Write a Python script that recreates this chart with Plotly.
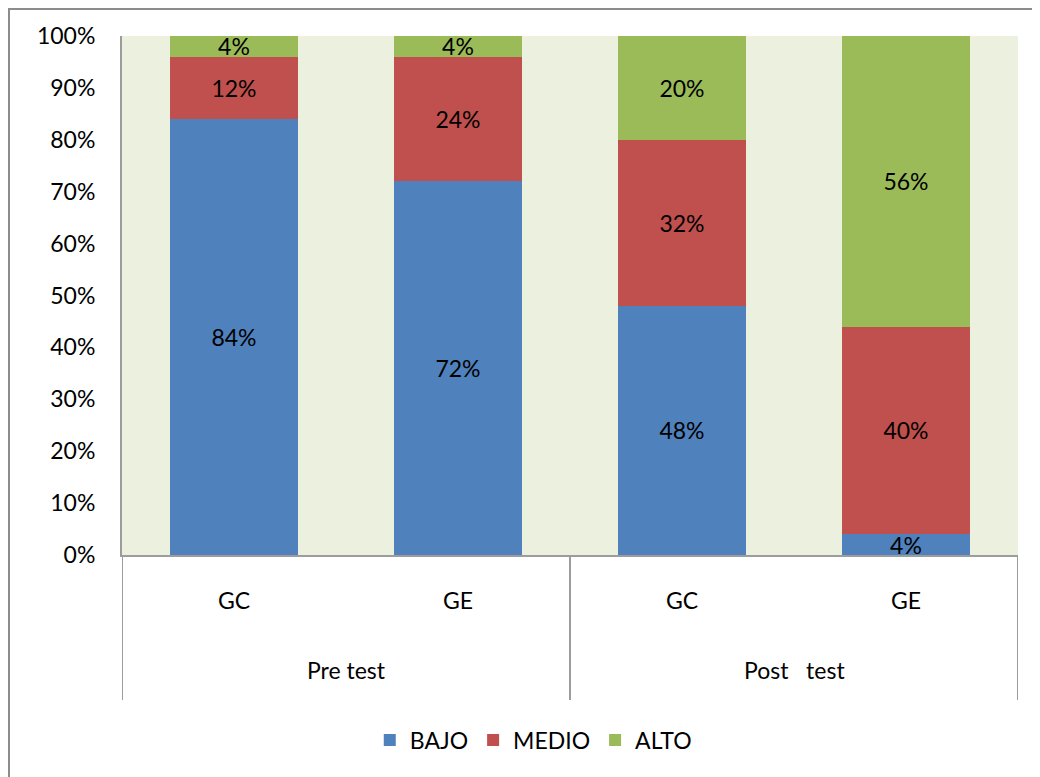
import plotly.graph_objects as go

# datos
grupos = ["GC", "GE", "GC", "GE"]
momentos = ["Pre test", "Post   test"]
bajo = [84, 72, 48, 4]
medio = [12, 24, 32, 40]
alto = [4, 4, 20, 56]

posiciones = list(range(len(grupos)))
fuente = "Lato"
gris = "#9C9C9C"
alto_px = 519  # alto del area de trazado

series = [
    ("BAJO", bajo, "#4F81BD"),
    ("MEDIO", medio, "#C0504D"),
    ("ALTO", alto, "#9BBB59"),
]

fig = go.Figure()
for nombre, valores, color in series:
    fig.add_trace(go.Bar(
        x=posiciones,
        y=[v / 100 for v in valores],
        name=nombre,
        marker=dict(color=color, line=dict(width=0)),
        text=["%d%%" % v for v in valores],
        textposition="inside",
        insidetextanchor="middle",
        textangle=0,
        constraintext="none",
        textfont=dict(family=fuente, size=23, color="#000000"),
        width=0.57,
    ))

fig.update_layout(
    barmode="stack",
    width=1040,
    height=777,
    paper_bgcolor="white",
    plot_bgcolor="#EBF1DE",
    margin=dict(l=114, r=30, t=28, b=230),
    font=dict(family=fuente, size=23, color="#000000"),
    legend=dict(
        orientation="h",
        x=0.459, xanchor="center",
        y=-185 / alto_px, yanchor="middle",
        font=dict(size=23),
        itemwidth=30,
        traceorder="normal",
    ),
)

fig.update_xaxes(
    range=[-0.5, len(grupos) - 0.5],
    tickvals=posiciones,
    ticktext=grupos,
    ticks="",
    ticklabelstandoff=24,
    showline=True,
    linecolor=gris,
    linewidth=2,
    showgrid=False,
    zeroline=False,
)
fig.update_yaxes(
    range=[0, 1],
    dtick=0.1,
    tickformat=".0%",
    ticks="",
    ticklabelstandoff=20,
    showline=True,
    linecolor=gris,
    linewidth=2,
    showgrid=False,
    zeroline=False,
)

# etiquetas del segundo nivel y divisores
for i, m in enumerate(momentos):
    fig.add_annotation(
        x=2 * i + 0.5, y=0, xref="x", yref="paper",
        text=m, showarrow=False, yanchor="middle", yshift=-115,
        font=dict(family=fuente, size=23),
    )
for xd in [-0.5, 1.5, 3.5]:
    fig.add_shape(
        type="line", xref="x", yref="paper",
        x0=xd, x1=xd, y0=0, y1=-145 / alto_px,
        line=dict(color=gris, width=2),
    )

# borde exterior del grafico
fig.add_shape(
    type="rect", xref="paper", yref="paper",
    x0=-114 / 896, x1=1.2, y0=-1.0, y1=1 + 28 / alto_px,
    line=dict(color="#8C8C8C", width=4),
    layer="below",
)

fig.write_html("out.html")
